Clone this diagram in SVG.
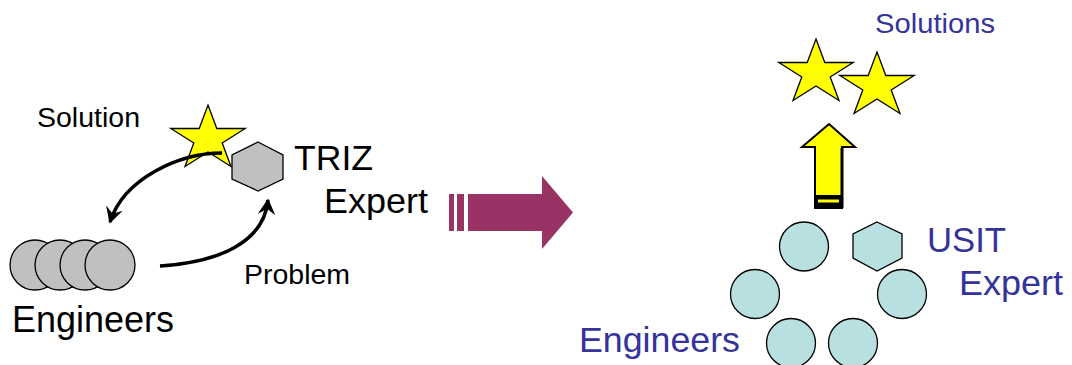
<svg xmlns="http://www.w3.org/2000/svg" width="1072" height="365" viewBox="0 0 1072 365">
  <style>
    .lbl { font-family: "Liberation Sans", Arial, sans-serif; fill: #000; }
    .blue { font-family: "Liberation Sans", Arial, sans-serif; fill: #333399; }
    .gray { fill: #C0C0C0; stroke: #000; stroke-width: 1.3; }
    .cyan { fill: #B9E0E0; stroke: #000; stroke-width: 1.3; }
    .star { fill: #FFFF00; stroke: #000; stroke-width: 1.3; stroke-linejoin: miter; }
    .conn { fill: none; stroke: #000; stroke-width: 3.5; }
  </style>
  <defs>
    <polygon id="starShape" points="0,-34 8.79,-10.51 37.19,-10.51 14.21,4.02 22.98,27.51 0,13 -22.98,27.51 -14.21,4.02 -37.19,-10.51 -8.79,-10.51"/>
    <marker id="vhead" viewBox="0 0 12 12" refX="10" refY="6" markerWidth="5" markerHeight="5" markerUnits="strokeWidth" orient="auto">
      <path d="M0,0 L11,6 L0,12 L4,6 Z" fill="#000"/>
    </marker>
  </defs>

  <rect width="1072" height="365" fill="#fff"/>

  <!-- Left: engineers -->
  <g id="engineers-left">
    <circle class="gray" cx="35" cy="265" r="25"/>
    <circle class="gray" cx="60" cy="265" r="25"/>
    <circle class="gray" cx="85" cy="265" r="25"/>
    <circle class="gray" cx="110" cy="265" r="25"/>
    <text class="lbl" x="12" y="332" font-size="36" textLength="162" lengthAdjust="spacingAndGlyphs">Engineers</text>
  </g>

  <g id="triz-expert">
    <polygon class="gray" points="258,142 283,155 283,179 258,191 232,179 232,155"/>
    <text class="lbl" x="294" y="170" font-size="35" textLength="79" lengthAdjust="spacingAndGlyphs">TRIZ</text>
    <text class="lbl" x="324" y="213" font-size="35" textLength="104" lengthAdjust="spacingAndGlyphs">Expert</text>
  </g>

  <g id="solution-star">
    <use href="#starShape" class="star" transform="translate(208,139)"/>
    <text class="lbl" x="37" y="127" font-size="27" textLength="103" lengthAdjust="spacingAndGlyphs">Solution</text>
  </g>

  <g id="problem-label">
    <text class="lbl" x="244" y="284" font-size="27" textLength="106" lengthAdjust="spacingAndGlyphs">Problem</text>
  </g>

  <!-- Big transition arrow -->
  <g id="transition-arrow" fill="#993366">
    <rect x="449" y="194" width="5" height="37"/>
    <rect x="457" y="194" width="7" height="37"/>
    <polygon points="468,194 542,194 542,176 573,212.5 542,249 542,231 468,231"/>
  </g>

  <!-- Right side -->
  <g id="solutions">
    <use href="#starShape" class="star" transform="translate(816,73)"/>
    <use href="#starShape" class="star" transform="translate(877,86)"/>
    <text class="blue" x="875" y="33" font-size="28" textLength="120" lengthAdjust="spacingAndGlyphs">Solutions</text>
  </g>

  <g id="up-arrow">
    <polygon points="829,124 855,147 842,147 842,208 815,208 815,147 802,147" fill="#FFFF00" stroke="#000" stroke-width="2" stroke-linejoin="miter"/>
    <line x1="842" y1="148" x2="842" y2="208" stroke="#000" stroke-width="3"/>
    <rect x="815" y="195" width="27" height="13" fill="#000"/>
    <rect x="818" y="199.5" width="21" height="3" fill="#FFFF00"/>
  </g>

  <g id="engineers-right">
    <circle class="cyan" cx="804" cy="246.5" r="24.5"/>
    <circle class="cyan" cx="755" cy="294" r="24.5"/>
    <circle class="cyan" cx="902" cy="294" r="24.5"/>
    <circle class="cyan" cx="791" cy="343" r="24.5"/>
    <circle class="cyan" cx="853" cy="343" r="24.5"/>
    <text class="blue" x="579" y="352" font-size="35" textLength="161" lengthAdjust="spacingAndGlyphs">Engineers</text>
  </g>

  <g id="usit-expert">
    <polygon class="cyan" points="877,222 902,234 902,258 877,271 853,258 853,234"/>
    <text class="blue" x="927" y="252" font-size="35" textLength="79" lengthAdjust="spacingAndGlyphs">USIT</text>
    <text class="blue" x="959" y="295" font-size="35" textLength="104" lengthAdjust="spacingAndGlyphs">Expert</text>
  </g>

  <!-- Connectors -->
  <g id="connectors">
    <path class="conn" d="M222,153 C180,153 124,178 110,222" marker-end="url(#vhead)"/>
    <path class="conn" d="M160,266 C220,262 264,242 268,200" marker-end="url(#vhead)"/>
  </g>
</svg>
